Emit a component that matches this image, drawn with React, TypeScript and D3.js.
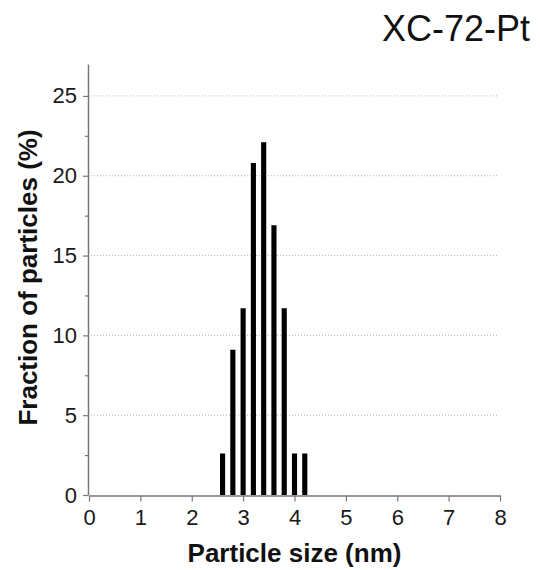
import React, { useEffect, useRef } from "react";
import * as d3 from "d3";

// particle size bins (nm) and fraction of particles (%)
const sizes = [2.6, 2.8, 3.0, 3.2, 3.4, 3.6, 3.8, 4.0, 4.2];
const fractions = [2.6, 9.1, 11.7, 20.8, 22.1, 16.9, 11.7, 2.6, 2.6];
const xTicks = [0, 1, 2, 3, 4, 5, 6, 7, 8];
const yTicks = [0, 5, 10, 15, 20, 25];
const yMinorTicks = [2.5, 7.5, 12.5, 17.5, 22.5];

const title = "XC-72-Pt";
const xLabel = "Particle size (nm)";
const yLabel = "Fraction of particles (%)";

const W = 540;
const H = 570;
const FONT = "'Liberation Sans', Arial, sans-serif";

const App = () => {
  const ref = useRef<SVGSVGElement>(null);

  useEffect(() => {
    document.body.style.margin = "0";
    const svg = d3.select(ref.current);
    svg.selectAll("*").remove();

    const x = d3.scaleLinear().domain([0, 8]).range([89, 500]);
    const y = d3.scaleLinear().domain([0, 27]).range([495, 64]);

    // dotted grid lines
    svg.append("g")
      .selectAll("line")
      .data(yTicks.filter(d => d > 0))
      .join("line")
      .attr("x1", x(0) + 2)
      .attr("x2", x(8) - 2)
      .attr("y1", d => y(d))
      .attr("y2", d => y(d))
      .attr("stroke", "#b5b5b5")
      .attr("stroke-width", 1)
      .attr("stroke-dasharray", "1,2");

    // bars
    const barW = x(0.1) - x(0);
    svg.append("g")
      .selectAll("rect")
      .data(sizes)
      .join("rect")
      .attr("x", (d) => x(d) - barW / 2)
      .attr("y", (d, i) => y(fractions[i]))
      .attr("width", barW)
      .attr("height", (d, i) => y(0) - y(fractions[i]))
      .attr("fill", "#000");

    // y axis
    const yAxis = svg.append("g")
      .attr("transform", `translate(${x(0) - 1},0)`)
      .call(d3.axisLeft(y).tickValues(yTicks).tickSize(5).tickSizeOuter(0).tickPadding(6));
    svg.append("g")
      .attr("transform", `translate(${x(0) - 1},0)`)
      .call(d3.axisLeft(y).tickValues(yMinorTicks).tickSize(3).tickFormat(() => ""))
      .select(".domain").remove();

    // x axis
    const xAxis = svg.append("g")
      .attr("transform", `translate(0,${y(0) + 0.5})`)
      .call(d3.axisBottom(x).tickValues(xTicks).tickSize(6).tickSizeOuter(0).tickPadding(8));

    [yAxis, xAxis].forEach(g => {
      g.select(".domain").attr("stroke", "#777").attr("stroke-width", 1.5);
      g.selectAll(".tick text")
        .attr("fill", "#1a1a1a")
        .style("font-size", "22px")
        .style("font-family", FONT);
    });
    svg.selectAll(".tick line").attr("stroke", "#777").attr("stroke-width", 1.2);

    // axis titles
    svg.append("text")
      .attr("x", (x(0) + x(8)) / 2)
      .attr("y", 562)
      .attr("text-anchor", "middle")
      .style("font-family", FONT)
      .style("font-weight", "bold")
      .style("font-size", "26px")
      .attr("fill", "#111")
      .text(xLabel);

    svg.append("text")
      .attr("transform", `translate(37,${(y(0) + y(27)) / 2 - 2}) rotate(-90)`)
      .attr("text-anchor", "middle")
      .style("font-family", FONT)
      .style("font-weight", "bold")
      .style("font-size", "26px")
      .attr("fill", "#111")
      .text(yLabel);

    svg.append("text")
      .attr("x", 530)
      .attr("y", 41)
      .attr("text-anchor", "end")
      .style("font-family", FONT)
      .style("font-size", "36px")
      .attr("fill", "#111")
      .text(title);
  }, []);

  return (
    <div>
      <svg ref={ref} width={W} height={H} style={{ display: "block", background: "#fff" }}></svg>
    </div>
  );
};

export default App;
